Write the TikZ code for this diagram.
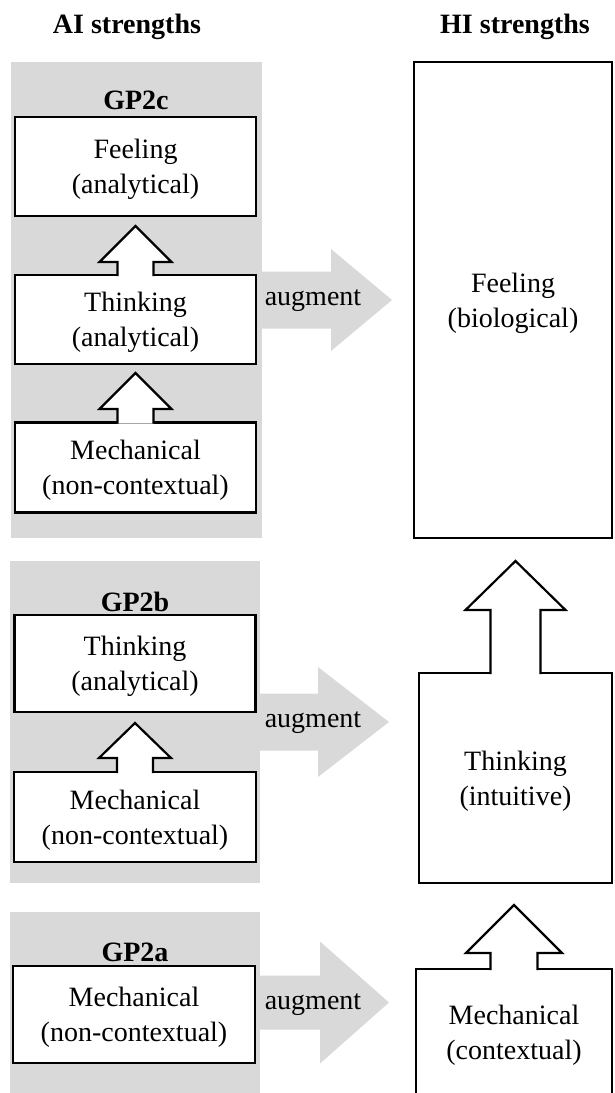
\documentclass[tikz,border=0pt]{standalone}
\usepackage{fontspec}
\setmainfont{Liberation Serif}
\usetikzlibrary{calc}
\definecolor{panelgray}{RGB}{217,217,217}
\tikzset{
  heading/.style={font=\fontsize{28}{35}\selectfont\bfseries, inner sep=0pt},
  panel/.style={fill=panelgray, draw=none, inner sep=0pt, outer sep=0pt},
  box/.style={draw=black, line width=2.2pt, fill=white, inner sep=0pt, outer sep=0pt},
  boxtext/.style={align=center, font=\fontsize{28}{35}\selectfont, inner sep=0pt, yshift=-3pt},
  hollow/.style={draw=black, fill=white, line width=2.2pt, line join=miter},
  augfill/.style={fill=panelgray},
  augtxt/.style={font=\fontsize{28}{35}\selectfont, inner sep=0pt}
}
% hollow block arrow pointing up from #1 (lower node) towards #2 (upper node)
% #3 shaft half width, #4 head half width, #5 head length, #6 gap below upper node
\newcommand\hollowup[6]{%
  \filldraw[hollow] let \p1=(#1.north), \p2=(#2.south) in
    (\x1-#3pt,\y1-1.2pt) -- (\x1-#3pt,\y2-#6pt-#5pt) -- (\x1-#4pt,\y2-#6pt-#5pt)
    -- (\x1,\y2-#6pt) -- (\x1+#4pt,\y2-#6pt-#5pt) -- (\x1+#3pt,\y2-#6pt-#5pt)
    -- (\x1+#3pt,\y1-1.2pt);
}
% grey block arrow from panel #1 towards node #2
% #3 shaft half height, #4 head half height, #5 head base offset from panel, #6 gap before target
\newcommand\augarrow[6]{%
  \fill[augfill] let \p1=(#1.east), \p2=(#2.west) in
    (\x1-1pt,\y1+#3pt) -- (\x1+#5pt,\y1+#3pt) -- (\x1+#5pt,\y1+#4pt) -- (\x2-#6pt,\y1)
    -- (\x1+#5pt,\y1-#4pt) -- (\x1+#5pt,\y1-#3pt) -- (\x1-1pt,\y1-#3pt) -- cycle;
}
\begin{document}
\begin{tikzpicture}[x=1pt, y=-1pt]
\useasboundingbox (0,0) rectangle (614,1093);

% headings
\node[heading] (aihead) at (127,27) {AI strengths};
\node[heading] (hihead) at (515,27) {HI strengths};

% grey panels
\node[panel, minimum width=251pt, minimum height=476pt] (pc) at (136.5,300) {};
\node[panel, minimum width=250pt, minimum height=322pt] (pb) at (135,722) {};
\node[panel, minimum width=250pt, minimum height=181pt] (pa) at (135,1002.5) {};

% HI boxes
\node[box, minimum width=198pt, minimum height=476pt,
  label={[boxtext]center:{Feeling\\(biological)}}] (hfeel) at (513,300) {};
\node[box, minimum width=193pt, minimum height=210pt,
  label={[boxtext]center:{Thinking\\(intuitive)}}] (hthink) at (515.5,778) {};
\node[box, minimum width=196pt, minimum height=126pt,
  label={[boxtext]center:{Mechanical\\(contextual)}}] (hmech) at (514,1032) {};

% augment arrows
\augarrow{pc}{hfeel}{28.5}{51}{69}{22}
\augarrow{pb}{hthink}{28.5}{55}{58}{30}
\augarrow{pa}{hmech}{27}{61}{60}{27}
\node[augtxt] (augc) at (313,301) {augment};
\node[augtxt] (augb) at (313,723) {augment};
\node[augtxt] (auga) at (313,1005) {augment};

% panel labels
\node[heading] (lc) at (136,100) {GP2c};
\node[heading] (lb) at (135,602) {GP2b};
\node[heading] (la) at (135,952) {GP2a};

% GP2c boxes
\node[box, minimum width=241pt, minimum height=99pt,
  label={[boxtext]center:{Feeling\\(analytical)}}] (cfeel) at (135.5,166.5) {};
\node[box, minimum width=241pt, minimum height=89pt,
  label={[boxtext]center:{Thinking\\(analytical)}}] (cthink) at (135.5,319.5) {};
\node[box, minimum width=241pt, minimum height=90pt,
  label={[boxtext]center:{Mechanical\\(non-contextual)}}] (cmech) at (135.5,467.5) {};
% GP2b boxes
\node[box, minimum width=241pt, minimum height=97pt,
  label={[boxtext]center:{Thinking\\(analytical)}}] (bthink) at (135,663.5) {};
\node[box, minimum width=242pt, minimum height=90pt,
  label={[boxtext]center:{Mechanical\\(non-contextual)}}] (bmech) at (135,817) {};
% GP2a box
\node[box, minimum width=242pt, minimum height=97pt,
  label={[boxtext]center:{Mechanical\\(non-contextual)}}] (amech) at (134,1014.5) {};

% hollow up arrows
\hollowup{cthink}{cfeel}{18}{36}{36}{10}
\hollowup{cmech}{cthink}{18}{36}{36}{9}
\hollowup{bmech}{bthink}{18}{36}{35}{11}
\hollowup{hthink}{hfeel}{25}{50}{49}{23}
\hollowup{hmech}{hthink}{23.5}{48}{48}{22}
\end{tikzpicture}
\end{document}
